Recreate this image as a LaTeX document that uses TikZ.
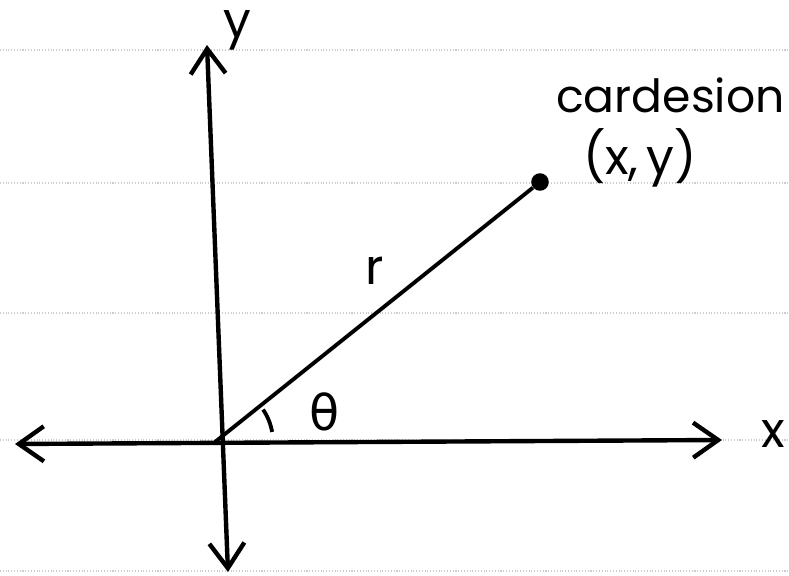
\documentclass[tikz,border=0pt]{standalone}
\usepackage{fontspec}
\setmainfont{Poppins}
\newfontfamily\greekfont{DejaVu Sans}
\usepackage{tikz}
\usetikzlibrary{positioning,arrows.meta}

\begin{document}
\begin{tikzpicture}[
  rule/.style={gray!40, densely dotted, line width=0.6pt},
  axis/.style={line width=2.5pt, {Straight Barb[length=5mm,width=7mm]}-{Straight Barb[length=5mm,width=7mm]}},
  lbl/.style={inner sep=0pt, font=\fontsize{28}{32}\selectfont}
]
\useasboundingbox (0,0) rectangle (15.78,11.52);
\fill[white] (0,0) rectangle (15.78,11.52);

% ruled lines of the paper
\foreach \y in {10.52,7.86,5.26,2.72,0.1}
  \draw[rule] (0,\y) -- (15.78,\y);

% axes
\coordinate (O) at (4.3,2.68);
\coordinate (xl) at (0.3,2.64);
\coordinate (xr) at (14.44,2.72);
\coordinate (yt) at (4.14,10.62);
\coordinate (yb) at (4.56,0.08);
\draw[axis] (xl) -- (xr);
\draw[axis] (yb) -- (yt);
\node[lbl] (xlab) at (15.46,2.84) {x};
\node[lbl] (ylab) at (4.74,10.92) {y};

% point and radius
\node[circle, fill, inner sep=0pt, minimum size=10pt] (P) at (10.8,7.88) {};
\draw[line width=2.2pt] (O) -- (P);
\node[lbl] (rlab) at (7.5,6.1) {r};
\draw[line width=2.2pt] ([shift={(10:1.16)}]O) arc (10:34:1.16);
\node[lbl] (tlab) at (6.5,3.28) {\greekfont θ};

% labels of the point
\node[lbl, anchor=east, font=\fontsize{26}{30}\selectfont] (cart) at (15.7,9.62) {cardesion};
\node[lbl] (xy) at (12.8,8.36) {(x,\,y)};
\end{tikzpicture}
\end{document}
